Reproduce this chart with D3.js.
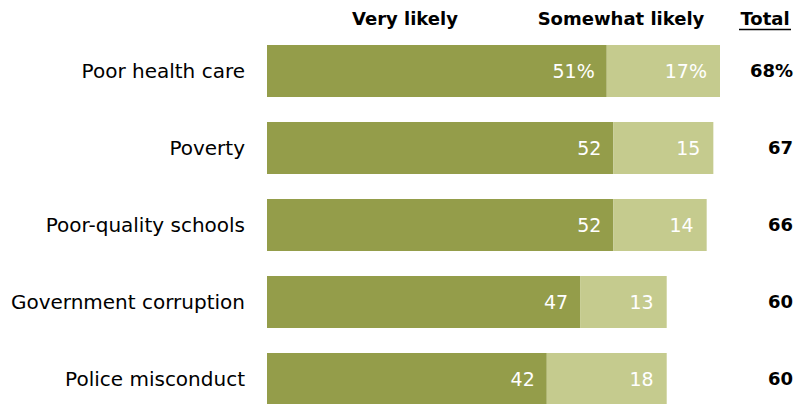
<!DOCTYPE html>
<html>
<head>
<meta charset="utf-8">
<script src="https://cdn.jsdelivr.net/npm/d3@7/dist/d3.min.js"></script>
<style>
  html, body { margin: 0; padding: 0; background: #fff; }
  svg { display: block; font-family: "DejaVu Sans", Verdana, sans-serif; }
</style>
</head>
<body>
<svg id="chart" width="802" height="404"></svg>
<script>
const categories = ["Poor health care", "Poverty", "Poor-quality schools", "Government corruption", "Police misconduct"];
const veryLikely = [51, 52, 52, 47, 42];
const somewhatLikely = [17, 15, 14, 13, 18];
const totals = [68, 67, 66, 60, 60];
const headers = ["Very likely", "Somewhat likely", "Total"];

const svg = d3.select("#chart");
const x = d3.scaleLinear().domain([0, 68]).range([267, 720]);
// 77px row pitch with 52px bars
const y = d3.scaleBand().domain(categories).range([45, 405]).paddingInner(25 / 77).paddingOuter(0);

const colDark = "#949d4a", colLight = "#c5cb8e";

const rows = svg.selectAll("g.row").data(categories).join("g").attr("class", "row");
const mid = d => y(d) + y.bandwidth() / 2;

rows.append("rect")
  .attr("x", x(0))
  .attr("y", d => y(d))
  .attr("width", (d, i) => x(veryLikely[i]) - x(0))
  .attr("height", y.bandwidth())
  .attr("fill", colDark);

rows.append("rect")
  .attr("x", (d, i) => x(veryLikely[i]))
  .attr("y", d => y(d))
  .attr("width", (d, i) => x(veryLikely[i] + somewhatLikely[i]) - x(veryLikely[i]))
  .attr("height", y.bandwidth())
  .attr("fill", colLight);

rows.append("text")
  .attr("x", 245)
  .attr("y", mid)
  .attr("dy", "0.36em")
  .attr("text-anchor", "end")
  .attr("font-size", 20)
  .attr("fill", "#000")
  .text(d => d);

rows.append("text")
  .attr("x", (d, i) => x(veryLikely[i]) - 12)
  .attr("y", mid)
  .attr("dy", "0.36em")
  .attr("text-anchor", "end")
  .attr("font-size", 19)
  .attr("fill", "#fff")
  .text((d, i) => veryLikely[i] + (i === 0 ? "%" : ""));

rows.append("text")
  .attr("x", (d, i) => x(veryLikely[i] + somewhatLikely[i]) - 13)
  .attr("y", mid)
  .attr("dy", "0.36em")
  .attr("text-anchor", "end")
  .attr("font-size", 19)
  .attr("fill", "#fff")
  .text((d, i) => somewhatLikely[i] + (i === 0 ? "%" : ""));

rows.append("text")
  .attr("x", 793)
  .attr("y", mid)
  .attr("dy", "0.36em")
  .attr("text-anchor", "end")
  .attr("font-size", 18)
  .attr("font-weight", "bold")
  .attr("fill", "#000")
  .text((d, i) => totals[i] + (i === 0 ? "%" : ""));

// Column headers
const headerX = [405, 621, 765];
svg.selectAll("text.hdr").data(headers).join("text")
  .attr("class", "hdr")
  .attr("x", (d, i) => headerX[i])
  .attr("y", 25)
  .attr("text-anchor", "middle")
  .attr("font-size", 18)
  .attr("font-weight", "bold")
  .attr("fill", "#000")
  .text(d => d);

svg.append("line")
  .attr("x1", 739).attr("x2", 791)
  .attr("y1", 29.5).attr("y2", 29.5)
  .attr("stroke", "#000").attr("stroke-width", 1.5);
</script>
</body>
</html>
